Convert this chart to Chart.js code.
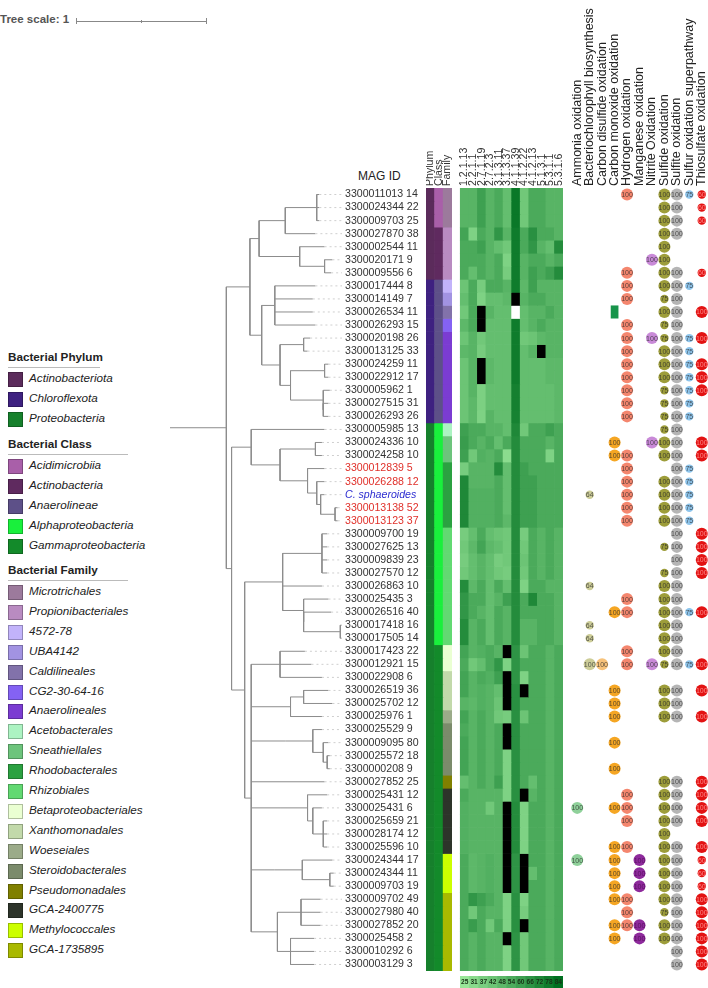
<!DOCTYPE html>
<html>
<head>
<meta charset="utf-8">
<script src="https://cdn.jsdelivr.net/npm/chart.js@4.4.1/dist/chart.umd.min.js"></script>
<style>
  body { margin: 0; background: #fff; font-family: "Liberation Sans", Arial, sans-serif; }
  #page { position: relative; width: 708px; height: 988px; overflow: hidden; }
  canvas { position: absolute; }
  .txt { position: absolute; white-space: nowrap; color: #222; }
  .sw { position: absolute; width: 13px; height: 13px; border: 1px solid rgba(0,0,0,0.25); }
  .rule { position: absolute; height: 1px; background: #aaa; }
</style>
</head>
<body>
<div id="page"></div>
<script>
// ---- data ----
const magIds = ['3300011013 14','3300024344 22','3300009703 25','3300027870 38','3300002544 11','3300020171 9','3300009556 6','3300017444 8','3300014149 7','3300026534 11',
  '3300026293 15','3300020198 26','3300013125 33','3300024259 11','3300022912 17','3300005962 1','3300027515 31','3300026293 26','3300005985 13','3300024336 10',
  '3300024258 10','3300012839 5','3300026288 12','C. sphaeroides','3300013138 52','3300013123 37','3300009700 19','3300027625 13','3300009839 23','3300027570 12',
  '3300026863 10','3300025435 3','3300026516 40','3300017418 16','3300017505 14','3300017423 22','3300012921 15','3300022908 6','3300026519 36','3300025702 12',
  '3300025976 1','3300025529 9','3300009095 80','3300025572 18','3300000208 9','3300027852 25','3300025431 12','3300025431 6','3300025659 21','3300028174 12',
  '3300025596 10','3300024344 17','3300024344 11','3300009703 19','3300009702 49','3300027980 40','3300027852 20','3300025458 2','3300010292 6','3300003129 3'];
const highlightRows = [22, 23, 25, 26];   // red labels
const referenceRow = 24;                  // C. sphaeroides

// tree: [depth, ...children]; leaf = [depth, row]
const tree = [0,
  [0.43,
    [0.61,
      [0.68,
        [0.88, [1.12, [1.14, 1], [1.14, 2], [1.14, 3]], [1.11, 4]],
        [0.99, [1.18, 5], [1.18, [1.24, 6], [1.23, 7]]]
      ],
      [0.70,
        [0.80, [1.11, 8], [1.09, 9], [1.09, 10], [1.11, 11]],
        [0.84,
          [1.02, [1.07, 12], [1.05, 13]],
          [0.92, [1.18, [1.21, 14], [1.21, 15]], [1.17, [1.22, 16], [1.17, [1.21, 17], [1.21, 18]]]]
        ]
      ]
    ],
    [0.47,
      [0.62,
        [1.18, 19],
        [0.84, [1.11, [1.16, 20], [1.16, 21]],
          [1.05, [1.18, 22], [1.12, [1.18, 23], [1.15, [1.18, 24], [1.26, [1.28, 25], [1.28, 26]]]]]]
      ],
      [0.57,
        [0.86, [1.16, [1.20, 27], [1.20, 28], [1.20, 29], [1.20, 30]], [1.16, 31],
          [1.02, [1.21, 32], [1.02, [1.23, 33], [1.30, [1.31, 34], [1.31, 35]]]]],
        [0.62,
          [0.84, [1.03, 36], [1.08, 37], [1.16, 38]],
          [0.92, [1.02, [1.21, 39], [1.24, 40]], [1.16, 41]],
          [0.88, [1.09, [1.16, 42], [1.17, [1.21, 43], [1.20, [1.22, 44], [1.22, 45]]]]],
          [1.18, 46],
          [0.84, [1.05, [1.20, 47], [1.09, [1.16, 48], [1.17, [1.20, 49], [1.20, 50], [1.20, 51]]]]],
          [0.80, [1.01, [1.24, 52], [1.22, [1.25, 53], [1.25, 54]]]],
          [0.82, [1.00, [1.15, 55], [1.15, 56], [1.15, 57]], [0.92, [1.10, 58], [1.10, 59], [1.10, 60]]]
        ]
      ]
    ]
  ]
];

const phylumRuns = [['Actinobacteriota', 7], ['Chloroflexota', 11], ['Proteobacteria', 42]];
const classRuns = [['Acidimicrobiia', 3], ['Actinobacteria', 4], ['Anaerolineae', 11], ['Alphaproteobacteria', 17], ['Gammaproteobacteria', 25]];
const familyRuns = [['Microtrichales', 3], ['Propionibacteriales', 4], ['4572-78', 1], ['UBA4142', 1], ['Caldilineales', 1], ['CG2-30-64-16', 1],
  ['Anaerolineales', 7], ['Acetobacterales', 1], ['Sneathiellales', 2], ['Rhodobacterales', 5], ['Rhizobiales', 9], ['Betaproteobacteriales', 2],
  ['Xanthomonadales', 3], ['Woeseiales', 1], ['Steroidobacterales', 4], ['Pseudomonadales', 1], ['GCA-2400775', 5], ['Methylococcales', 3], ['GCA-1735895', 6]];

const ecNumbers = ['1.2.1.13', '2.2.1.1', '2.7.1.19', '2.7.2.3', '3.1.3.11', '3.1.3.37', '4.1.1.39', '4.1.2.22', '4.1.2.13', '5.1.3.1', '5.3.1.1', '5.3.1.6'];
// 0 = absent (black), 100 = white
const heatValues = [
  [50,50,60,50,55,45,80,40,55,55,50,50],[50,50,60,50,55,45,80,40,55,55,50,50],[50,50,60,50,55,45,80,40,55,55,50,50],
  [58,35,55,50,65,50,78,55,68,55,55,50],[55,55,60,50,45,40,78,55,65,50,45,70],[55,55,55,50,55,35,78,50,55,55,50,55],
  [55,45,55,50,55,38,78,50,60,55,60,70],[42,55,38,55,55,50,78,48,60,50,50,50],[45,55,35,45,45,48,0,50,55,55,50,50],
  [40,55,0,50,45,45,100,45,50,50,55,50],[48,55,0,45,45,45,78,45,50,55,50,50],[42,50,40,45,45,45,78,40,42,48,50,50],
  [48,50,38,45,45,45,78,45,50,0,50,50],[42,50,0,48,45,45,78,45,45,45,48,48],[42,50,0,48,45,45,78,45,45,45,48,48],
  [42,50,36,45,45,45,76,45,45,45,45,48],[42,48,36,45,45,45,76,45,45,45,45,48],[42,48,35,50,45,45,75,45,45,45,45,48],
  [60,55,55,50,50,45,72,40,55,55,60,55],[62,55,50,55,45,55,70,55,55,55,50,55],[60,40,52,50,55,30,70,55,55,55,35,55],
  [38,50,50,50,70,45,70,60,55,55,55,55],[72,50,50,50,55,45,70,60,60,55,55,55],[72,52,52,52,55,45,70,60,60,55,55,55],
  [72,52,52,52,55,45,70,60,60,55,55,55],[72,52,52,52,55,48,70,60,60,55,55,55],[38,45,55,45,42,40,70,38,55,50,55,50],
  [40,48,58,48,45,40,70,40,55,50,55,50],[38,45,50,45,38,40,70,42,55,50,55,50],[40,45,50,45,40,38,70,40,55,50,55,50],
  [70,48,55,45,55,45,70,35,55,55,50,50],[65,55,55,45,50,60,70,55,72,55,55,50],[65,55,50,45,55,50,70,55,55,55,55,50],
  [70,50,55,45,55,50,70,50,50,55,55,50],[70,50,55,45,55,50,70,50,50,55,55,50],[58,50,52,55,50,0,66,42,55,55,50,55],
  [55,40,45,55,65,35,66,55,55,55,50,55],[58,50,55,52,60,0,66,35,55,55,50,55],[58,50,52,50,45,0,68,0,55,55,50,55],
  [50,48,52,50,42,0,68,55,55,55,50,55],[58,50,55,50,40,38,68,42,55,55,50,55],[55,50,55,50,55,0,68,55,55,55,50,55],
  [58,50,55,50,55,0,68,55,55,55,50,55],[58,50,55,50,55,35,68,55,55,55,50,55],[58,50,55,50,55,35,68,55,55,55,50,55],
  [45,50,55,50,60,35,68,55,45,55,50,55],[55,50,50,50,50,35,68,0,50,55,50,55],[52,50,50,40,50,0,70,35,55,55,50,55],
  [52,50,50,50,50,0,70,35,55,55,50,55],[52,50,50,50,50,0,70,35,55,55,50,55],[52,50,50,50,50,0,70,35,55,55,50,55],
  [55,48,50,52,50,0,66,0,55,55,50,55],[55,48,50,52,50,0,66,0,45,55,50,55],[55,48,50,52,50,0,66,0,55,55,50,55],
  [55,65,60,55,50,35,68,35,55,55,50,55],[55,40,55,50,50,35,68,38,55,55,50,55],[55,62,55,40,55,35,68,0,55,55,50,55],
  [55,50,55,50,50,0,66,40,55,55,50,55],[55,50,55,50,50,35,66,40,55,55,50,55],[55,50,55,50,50,35,66,40,55,55,50,55]
];
const scaleSteps = [25, 31, 37, 42, 48, 54, 60, 66, 72, 78, 84];

// pathway completeness per MAG: [row, value]
const ammoniaOx = [[48, 100], [52, 100]];
const bchlSynth = [[24, 64], [31, 64], [34, 64], [35, 64], [37, 100]];
const cs2Ox = [[37, 100]];
const coOx = [[20,100],[21,100],[33,100],[39,100],[40,100],[41,100],[43,100],[45,100],[48,100],[51,100],[52,100],[53,100],[54,100],[55,100],[57,100],[58,100]];
const coOxMarkerRows = [10];
const h2Ox = [1,7,8,9,11,12,13,14,15,16,17,18,21,22,23,24,25,26,32,33,36,37,47,48,49,51,55,56,57].map(r => [r, 100]);
const mnOx = [[52, 100], [53, 100], [54, 100], [57, 100], [58, 100]];
const nitriteOx = [[6, 100], [12, 100], [20, 100], [37, 100]];
const sulfideOx = [[1,100],[2,100],[3,100],[4,100],[5,100],[6,100],[7,100],[8,100],[9,75],[10,100],[11,75],[12,75],[13,100],[14,100],[15,100],
  [16,75],[17,75],[18,75],[19,75],[20,100],[21,100],[23,100],[24,100],[25,100],[26,100],[28,75],[30,75],[31,100],[32,100],[33,100],[34,100],
  [35,100],[36,100],[37,75],[39,100],[40,100],[41,100],[46,100],[47,100],[48,100],[49,100],[50,100],[51,100],[52,100],[53,100],[54,100],
  [55,100],[56,75],[57,100],[58,100]];
const sulfiteOx = [1,2,3,4,7,8,9,10,11,12,13,14,15,16,17,18,19,20,21,22,23,24,25,26,27,28,29,30,31,32,33,34,35,36,37,39,40,41,46,47,48,49,
  51,52,53,54,55,56,57,58,59,60].map(r => [r, 100]);
const sulfurSuper = [1,8,12,13,14,15,16,17,18,22,23,24,25,26,33,37].map(r => [r, 75]);
const thiosulfateOx = [[1,60],[2,60],[3,60],[7,60],[10,100],[12,100],[14,100],[15,100],[16,100],[20,100],[21,100],[27,100],[28,100],[29,100],
  [30,100],[33,100],[37,100],[39,100],[41,100],[46,100],[47,100],[48,100],[49,100],[51,100],[52,60],[53,60],[54,60],[55,100],[56,100],
  [57,100],[58,100],[59,100],[60,100]];

const pathways = [
  { name: 'Ammonia oxidation', hits: ammoniaOx, color: '#8fd19a' },
  { name: 'Bacteriochlorophyll biosynthesis', hits: bchlSynth, color: '#cdcd98' },
  { name: 'Carbon disulfide oxidation', hits: cs2Ox, color: '#f7c27a' },
  { name: 'Carbon monoxide oxidation', hits: coOx, color: '#f5a623' },
  { name: 'Hydrogen oxidation', hits: h2Ox, color: '#f4866e' },
  { name: 'Manganese oxidation', hits: mnOx, color: '#8e2a9c' },
  { name: 'Nitrite Oxidation', hits: nitriteOx, color: '#c98ad8' },
  { name: 'Sulfide oxidation', hits: sulfideOx, color: '#9d9d3a' },
  { name: 'Sulfite oxidation', hits: sulfiteOx, color: '#b5b5b5' },
  { name: 'Sulfur oxidation superpathway', hits: sulfurSuper, color: '#8ec5ec' },
  { name: 'Thiosulfate oxidation', hits: thiosulfateOx, color: '#e21212' }
];

// ---- styles ----
const taxaColors = {
  'Actinobacteriota': '#5b2b5b', 'Chloroflexota': '#3e2180', 'Proteobacteria': '#16802c',
  'Acidimicrobiia': '#a95fa9', 'Actinobacteria': '#5f2a5f', 'Anaerolineae': '#5d5088', 'Alphaproteobacteria': '#19f03c', 'Gammaproteobacteria': '#138a2a',
  'Microtrichales': '#9c7a9c', 'Propionibacteriales': '#b98bc1', '4572-78': '#c2b3fa', 'UBA4142': '#a293e2', 'Caldilineales': '#8272aa',
  'CG2-30-64-16': '#8462f3', 'Anaerolineales': '#7b3cd2', 'Acetobacterales': '#acf3c2', 'Sneathiellales': '#6dc47c', 'Rhodobacterales': '#2ba141',
  'Rhizobiales': '#62d972', 'Betaproteobacteriales': '#eaffd2', 'Xanthomonadales': '#c2d9aa', 'Woeseiales': '#9bab89', 'Steroidobacterales': '#7b8b6b',
  'Pseudomonadales': '#808000', 'GCA-2400775': '#2d342a', 'Methylococcales': '#ccff00', 'GCA-1735895': '#a9b900'
};
const FONT = '"Liberation Sans", Arial, sans-serif';
Chart.defaults.font.family = FONT;
const ROW0 = 195, ROWH = 13.05, NROW = magIds.length;
const areaTop = ROW0 - ROWH / 2, areaH = NROW * ROWH;
const page = document.getElementById('page');

function expandRuns(runs) {
  const out = [];
  runs.forEach(([name, n]) => { for (let i = 0; i < n; i++) out.push(name); });
  return out;
}
function heatColor(v) {
  if (v === 0) return '#000000';
  if (v >= 100) return '#ffffff';
  const t = Math.max(0, Math.min(1, (v - 25) / 59));
  const a = [152, 230, 152], b = [0, 112, 32];
  return 'rgb(' + a.map((c, i) => Math.round(c + (b[i] - c) * t)).join(',') + ')';
}
function addCanvas(left, top, w, h) {
  const c = document.createElement('canvas');
  c.width = w; c.height = h;
  c.style.left = left + 'px'; c.style.top = top + 'px';
  c.style.width = w + 'px'; c.style.height = h + 'px';
  page.appendChild(c);
  return c;
}
function addText(txt, left, top, css) {
  const d = document.createElement('div');
  d.className = 'txt';
  d.textContent = txt;
  d.style.cssText += 'left:' + left + 'px;top:' + top + 'px;' + (css || '');
  page.appendChild(d);
  return d;
}
const rowAxis = { type: 'linear', min: 0.5, max: NROW + 0.5, reverse: true, display: false };
const baseOpts = {
  responsive: false, animation: false, events: [],
  layout: { padding: 0, autoPadding: false },
  plugins: { legend: { display: false }, tooltip: { enabled: false } }
};
function tickRow(c) { return c.tick ? c.tick.value : (c.index || 0) + 1; }
// rotated labels on a top axis: Chart.js shifts them left by one line height
function topHeaderTicks(size, color) {
  return { autoSkip: false, minRotation: 90, maxRotation: 90, padding: 2, color,
    font: { size, lineHeight: 1.2 }, labelOffset: size * 1.2 };
}

// text inside marks
const markText = {
  id: 'markText',
  afterDatasetsDraw(chart) {
    const ctx = chart.ctx;
    chart.data.datasets.forEach((ds, i) => {
      if (!ds.markLabels) return;
      const meta = chart.getDatasetMeta(i);
      meta.data.forEach((el, j) => {
        const txt = ds.markLabels[j];
        if (txt === undefined || txt === null) return;
        const y = el.base !== undefined ? (el.y + el.base) / 2 : el.y;
        ctx.save();
        ctx.font = ds.markFont || '7px ' + FONT;
        ctx.fillStyle = ds.markColor || '#555';
        ctx.textAlign = 'center';
        ctx.textBaseline = 'middle';
        ctx.fillText(txt, el.x, y + 0.5);
        ctx.restore();
      });
    });
  }
};

// ---- tree scale + titles ----
addText('Tree scale: 1', 0, 13, 'font-size:11.5px;font-weight:bold;color:#555;');
const sb = document.createElement('div');
sb.className = 'rule'; sb.style.cssText += 'left:76px;top:21px;width:131px;background:#888;';
page.appendChild(sb);
[76, 141, 206].forEach((x, i) => {
  const t = document.createElement('div');
  t.className = 'rule';
  t.style.cssText += 'left:' + x + 'px;top:' + (i === 1 ? 20 : 18) + 'px;width:1px;height:' + (i === 1 ? 3 : 6) + 'px;background:#888;';
  page.appendChild(t);
});
addText('MAG ID', 358, 169, 'font-size:12px;color:#222;');

// ---- legend ----
function legendBlock(title, names, titleY, ruleW) {
  addText(title, 8, titleY - 8, 'font-size:11.7px;font-weight:bold;color:#222;');
  const r = document.createElement('div');
  r.className = 'rule'; r.style.cssText += 'left:8px;top:' + (titleY + 9) + 'px;width:' + ruleW + 'px;background:#bbb;';
  page.appendChild(r);
  names.forEach((n, i) => {
    const cy = titleY + 21 + i * 19.9;
    const s = document.createElement('div');
    s.className = 'sw';
    s.style.cssText += 'left:8px;top:' + (cy - 7) + 'px;background:' + taxaColors[n] + ';';
    page.appendChild(s);
    addText(n, 29, cy - 8, 'font-size:11.7px;font-style:italic;color:#222;');
  });
}
legendBlock('Bacterial Phylum', phylumRuns.map(r => r[0]), 358, 92);
legendBlock('Bacterial Class', classRuns.map(r => r[0]), 445, 120);
legendBlock('Bacterial Family', familyRuns.map(r => r[0]), 571, 120);

// ---- tree chart ----
const UNIT = 131;              // px per tree-scale unit
const leaderEnd = 172 / UNIT;  // where dotted leaders end
const branchPts = [], leaderPts = [];
function walk(node, parentDepth) {
  const d = node[0];
  let y;
  if (typeof node[1] === 'number') {
    y = node[1];
    leaderPts.push({ x: d, y }, { x: leaderEnd, y }, { x: NaN, y: NaN });
  } else {
    const ys = node.slice(1).map(ch => walk(ch, d));
    y = (ys[0] + ys[ys.length - 1]) / 2;
    branchPts.push({ x: d, y: ys[0] }, { x: d, y: ys[ys.length - 1] }, { x: NaN, y: NaN });
  }
  if (parentDepth !== null) branchPts.push({ x: parentDepth, y }, { x: d, y }, { x: NaN, y: NaN });
  return y;
}
walk(tree, null);

new Chart(addCanvas(150, areaTop, 275, areaH), {
  type: 'scatter',
  data: {
    datasets: [
      { data: leaderPts, showLine: true, spanGaps: false, borderColor: '#cfcfcf', borderWidth: 1, borderDash: [2, 3], pointRadius: 0 },
      { data: branchPts, showLine: true, spanGaps: false, borderColor: '#8c8c8c', borderWidth: 1, pointRadius: 0 }
    ]
  },
  options: Object.assign({}, baseOpts, {
    scales: {
      x: { type: 'linear', display: false, min: -20 / UNIT, max: -20 / UNIT + 195 / UNIT },
      y: {
        type: 'linear', position: 'right', min: 0.5, max: NROW + 0.5, reverse: true,
        grid: { display: false, drawTicks: false }, border: { display: false },
        afterBuildTicks: axis => { axis.ticks = magIds.map((_, i) => ({ value: i + 1 })); },
        afterFit: axis => { axis.width = 80; axis.paddingTop = 0; axis.paddingBottom = 0; },
        ticks: {
          padding: 0, autoSkip: false,
          callback: v => magIds[v - 1],
          color: c => { const r = tickRow(c); return highlightRows.includes(r) ? '#e0302a' : (r === referenceRow ? '#2b2bd0' : '#333'); },
          font: c => ({ size: 10.6, style: tickRow(c) === referenceRow ? 'italic' : 'normal', family: FONT })
        }
      }
    }
  })
});

// ---- taxonomy strips + heatmap ----
const phylumRow = expandRuns(phylumRuns), classRow = expandRuns(classRuns), familyRow = expandRuns(familyRuns);
const heatCols = ['Phylum', 'Class', 'Family', ''].concat(ecNumbers);
const HEAD_H = 70;
function cellColor(r, c) {
  if (c === 0) return taxaColors[phylumRow[r]];
  if (c === 1) return taxaColors[classRow[r]];
  if (c === 2) return taxaColors[familyRow[r]];
  if (c === 3) return 'rgba(0,0,0,0)';
  return heatColor(heatValues[r][c - 4]);
}
new Chart(addCanvas(426, areaTop - HEAD_H, 137, areaH + HEAD_H), {
  type: 'bar',
  data: {
    labels: heatCols,
    datasets: magIds.map((_, r) => ({
      data: heatCols.map((_, c) => c === 3 ? null : [r + 0.5, r + 1.5]),
      backgroundColor: heatCols.map((_, c) => cellColor(r, c)),
      borderWidth: 0, grouped: false, barPercentage: 1, categoryPercentage: 1
    }))
  },
  options: Object.assign({}, baseOpts, {
    scales: {
      x: {
        position: 'top', grid: { display: false, drawTicks: false }, border: { display: false },
        afterFit: axis => { axis.height = HEAD_H; axis.paddingLeft = 0; axis.paddingRight = 0; },
        ticks: topHeaderTicks(10.6, '#333')
      },
      y: rowAxis
    }
  })
});

// colour key under the heatmap
new Chart(addCanvas(460, areaTop + areaH + 5, 103, 12), {
  type: 'bar',
  data: {
    labels: scaleSteps.map(String),
    datasets: [{
      data: scaleSteps.map(() => [0, 1]),
      backgroundColor: scaleSteps.map(heatColor),
      borderWidth: 0, barPercentage: 1, categoryPercentage: 1,
      markLabels: scaleSteps.map(String), markColor: '#173317', markFont: 'bold 6.6px ' + FONT
    }]
  },
  options: Object.assign({}, baseOpts, { scales: { x: { display: false }, y: { display: false, min: 0, max: 1 } } }),
  plugins: [markText]
});

// ---- pathway bubbles ----
const PHEAD_H = Math.round(areaTop);
const bubbleSets = pathways.map(p => ({
  type: 'bubble',
  data: p.hits.map(([row, v]) => ({ x: p.name, y: row, r: v >= 100 ? 6 : 4.2 })),
  backgroundColor: p.color, borderWidth: 0,
  markLabels: p.hits.map(h => String(h[1])),
  markColor: p.name === 'Thiosulfate oxidation' ? '#ff8a8a' : (p.name === 'Manganese oxidation' ? '#5a1060' : 'rgba(40,40,40,0.75)'),
  markFont: '7px ' + FONT
}));
bubbleSets.push({
  type: 'bar',
  data: coOxMarkerRows.map(r => ({ x: 'Carbon monoxide oxidation', y: [r - 0.5, r + 0.5] })),
  backgroundColor: '#17944a', borderWidth: 0, grouped: false, barPercentage: 0.62, categoryPercentage: 1
});
new Chart(addCanvas(571, areaTop - PHEAD_H, 137, areaH + PHEAD_H), {
  type: 'bubble',
  data: { labels: pathways.map(p => p.name), datasets: bubbleSets },
  options: Object.assign({}, baseOpts, {
    scales: {
      x: {
        type: 'category', position: 'top', offset: true,
        grid: { display: false, drawTicks: false }, border: { display: false },
        afterFit: axis => { axis.height = PHEAD_H; axis.paddingLeft = 0; axis.paddingRight = 0; },
        ticks: topHeaderTicks(12.5, '#222')
      },
      y: rowAxis
    }
  }),
  plugins: [markText]
});
</script>
</body>
</html>
